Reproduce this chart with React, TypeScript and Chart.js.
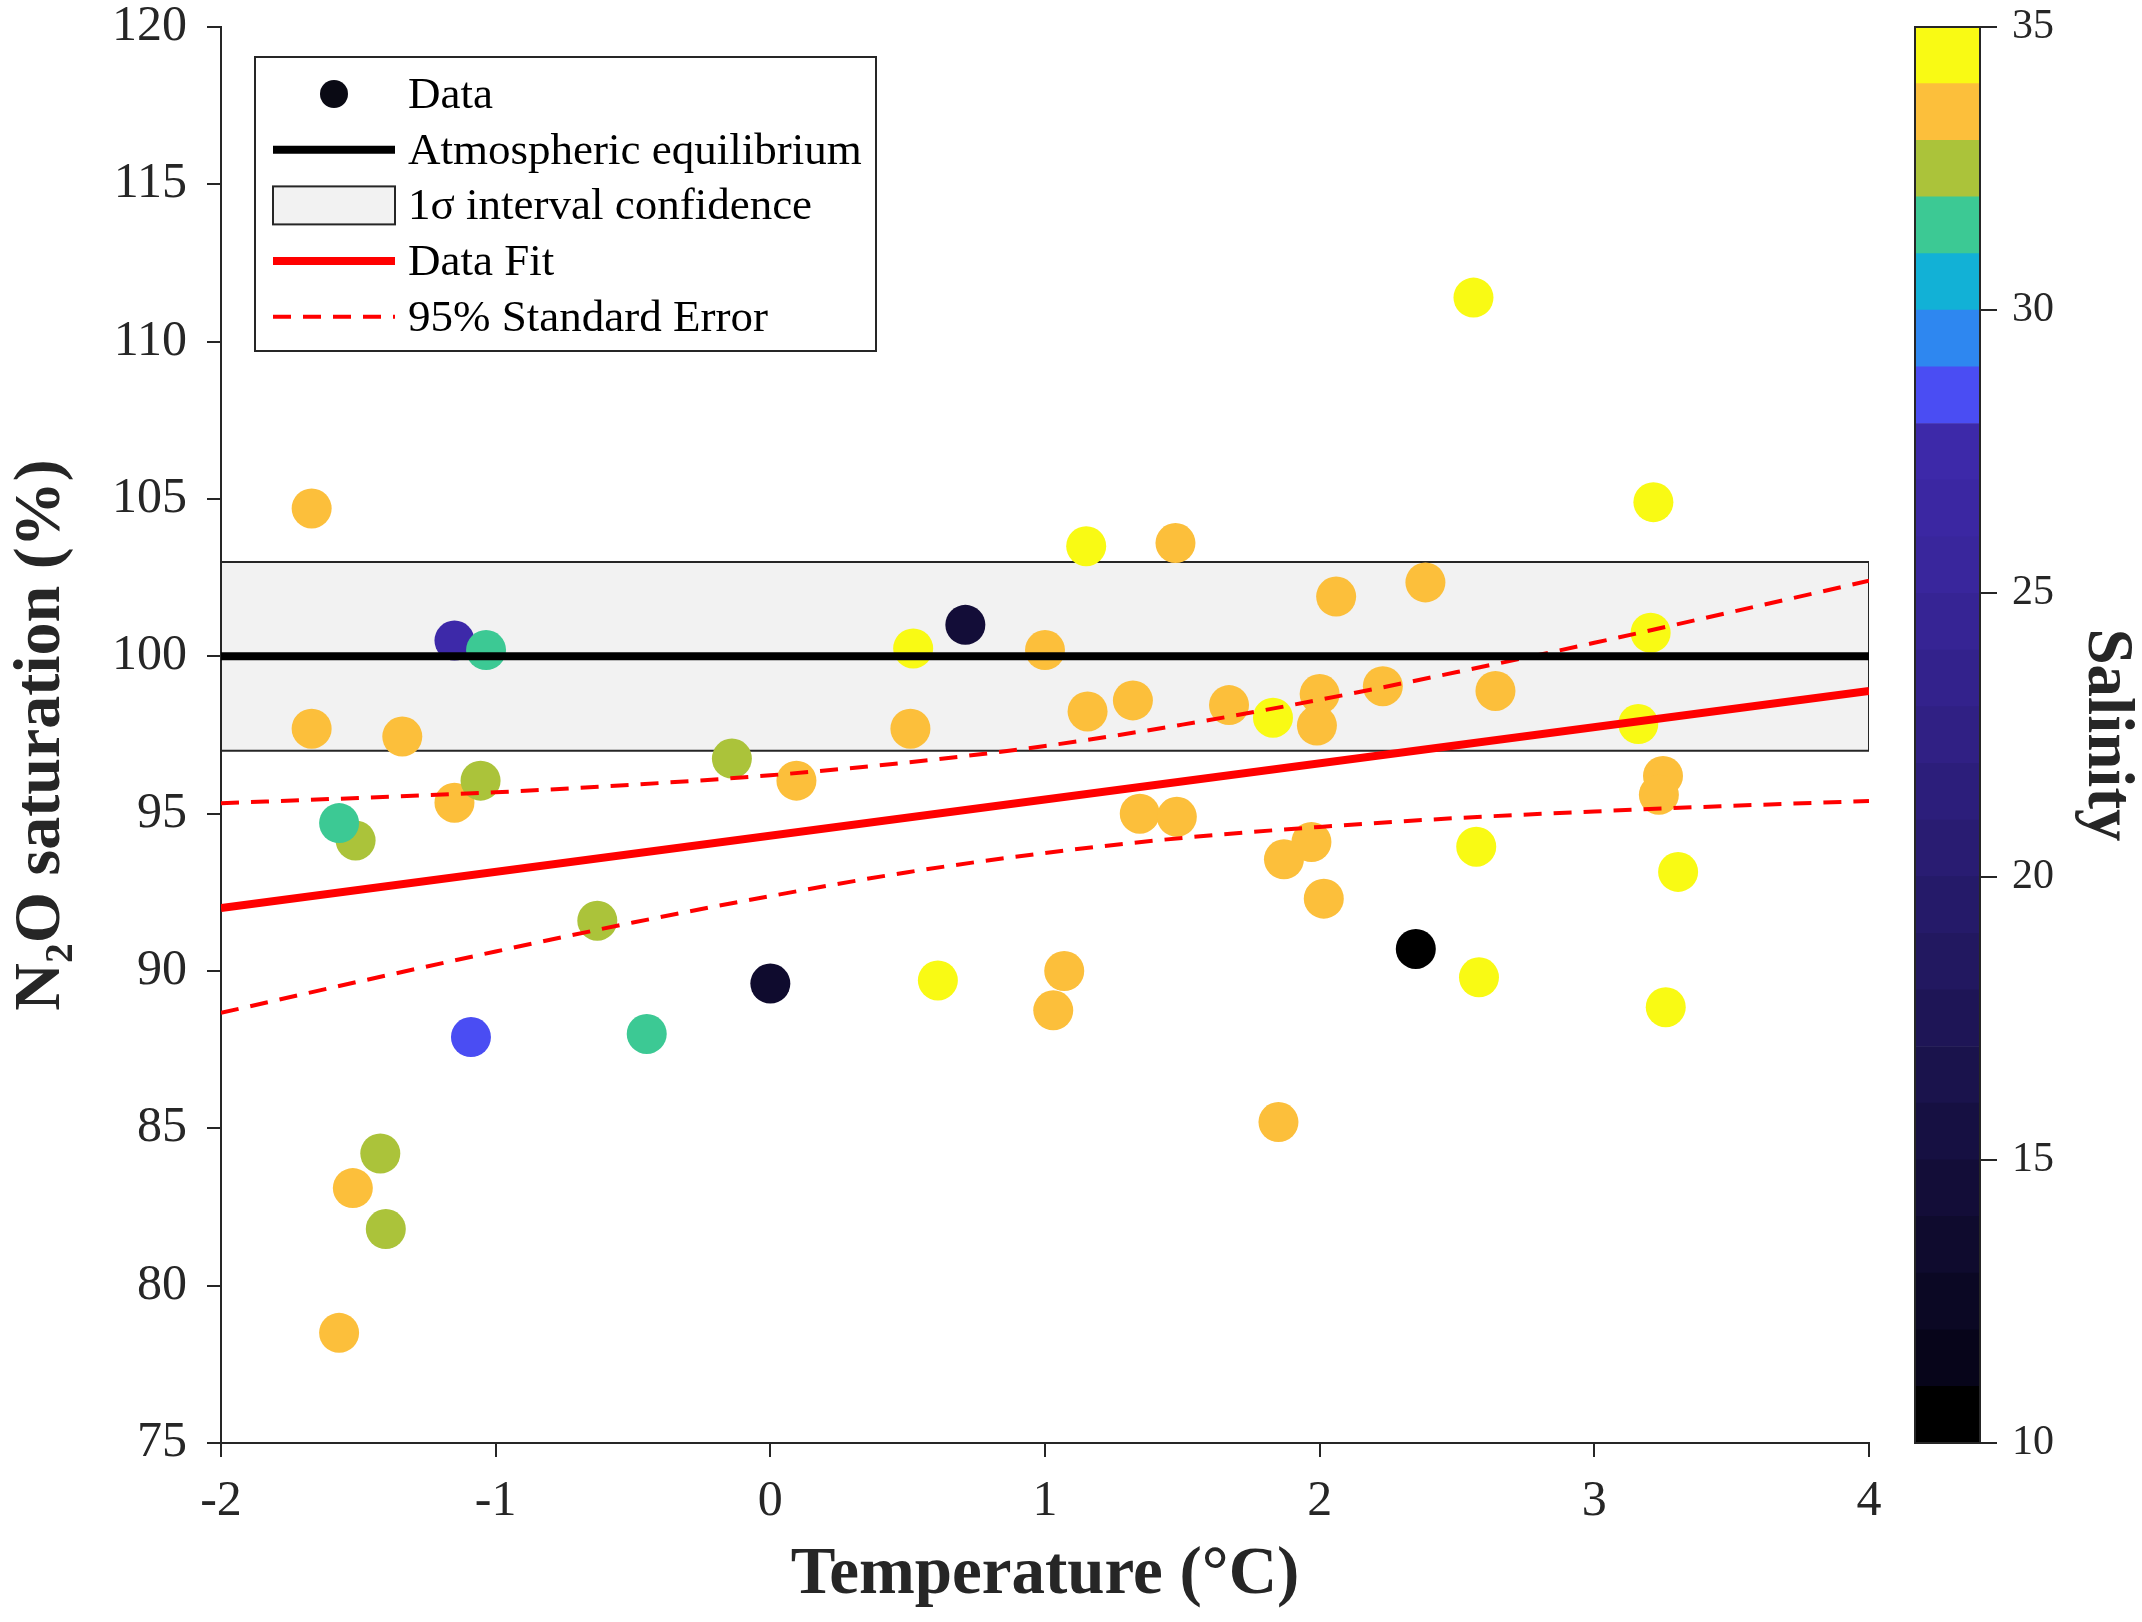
import React, { useEffect, useRef } from 'react';
import { Chart, registerables } from 'chart.js';

Chart.register(...registerables);

const FONT = "'Liberation Serif', 'Times New Roman', 'DejaVu Serif', serif";
const INK = '#262626';

// measured stations: temperature (°C), N2O saturation (%), salinity
const temperature = [
  -1.67, -1.67, -1.51, -1.57, -1.52, -1.42, -1.4, -1.57, -1.34, -1.15,
  -1.035, -1.15, -1.055, -1.09, -0.63, -0.45, -0.14, 0.0, 0.095, 0.51,
  0.52, 0.71, 0.61, 1.0, 1.07, 1.03, 1.15, 1.155, 1.32, 1.345,
  1.475, 1.48, 1.67, 1.83, 1.87, 1.85, 1.97, 2.0, 1.99, 2.015,
  2.06, 2.23, 2.385, 2.35, 2.56, 2.57, 2.58, 2.64, 3.215, 3.205,
  3.16, 3.25, 3.235, 3.305, 3.26,
];
const saturation = [
  104.7, 97.7, 94.15, 94.7, 83.1, 84.2, 81.8, 78.5, 97.45, 100.5,
  100.2, 95.35, 96.05, 87.9, 91.6, 88.0, 96.75, 89.6, 96.05, 97.7,
  100.25, 101.0, 89.7, 100.2, 90.0, 88.75, 103.5, 98.25, 98.6, 95.0,
  103.6, 94.9, 98.45, 98.05, 93.55, 85.2, 94.1, 98.8, 97.8, 92.3,
  101.9, 99.05, 102.35, 90.7, 111.4, 93.95, 89.8, 98.9, 104.9, 100.75,
  97.85, 96.2, 95.6, 93.15, 88.85,
];
const salinity = [
  33.5, 33.5, 32.5, 31.5, 33.5, 32.5, 32.5, 33.5, 33.5, 27.5,
  31.5, 33.5, 32.5, 28.5, 32.5, 31.5, 32.5, 13.5, 33.5, 33.5,
  34.5, 14.5, 34.5, 33.5, 33.5, 33.5, 34.5, 33.5, 33.5, 33.5,
  33.5, 33.5, 33.5, 34.5, 33.5, 33.5, 33.5, 33.5, 33.5, 33.5,
  33.5, 33.5, 33.5, 10.5, 34.5, 34.5, 34.5, 33.5, 34.5, 34.5,
  34.5, 33.5, 33.5, 34.5, 34.5,
];

// linear fit and its 95% standard error envelope
const fitTemperature = [-2, 4];
const fitSaturation = [92.0, 98.9];
const seTemperature = [-2, -1.5, -1, -0.5, 0, 0.5, 1, 1.5, 2, 2.5, 3, 3.5, 4];
const seUpper = [95.33, 95.5, 95.68, 95.92, 96.22, 96.63, 97.15, 97.83, 98.62, 99.5, 100.43, 101.41, 102.4];
const seLower = [88.67, 89.66, 90.62, 91.54, 92.38, 93.14, 93.75, 94.23, 94.58, 94.86, 95.07, 95.25, 95.4];

// atmospheric equilibrium and 1 sigma band
const equilibriumTemperature = [-2, 4];
const equilibriumSaturation = [100, 100];
const bandTemperature = [-2, 4, 4, -2, -2];
const bandSaturation = [97, 97, 103, 103, 97];

const xTickValues = [-2, -1, 0, 1, 2, 3, 4];
const yTickValues = [75, 80, 85, 90, 95, 100, 105, 110, 115, 120];
const salinityTickValues = [10, 15, 20, 25, 30, 35];

// colour bar bins (1 psu each)
const salinityBinStart = [
  10, 11, 12, 13, 14, 15, 16, 17, 18, 19, 20, 21, 22,
  23, 24, 25, 26, 27, 28, 29, 30, 31, 32, 33, 34,
];
const salinityBinColors = [
  '#000000', '#07051a', '#0b0824', '#0f0b2e', '#130d38', '#161042', '#1a134c',
  '#1e1556', '#221860', '#251a69', '#291c72', '#2c1e7b', '#302084', '#33228c',
  '#362494', '#39269c', '#3b27a2', '#3d29a9', '#4a4df3', '#2e87f0', '#12b1d6',
  '#3cc994', '#abc33a', '#fcbf3b', '#f9fa14',
];

const salinityColor = (s: number) => {
  let idx = 0;
  salinityBinStart.forEach((start, i) => {
    if (s >= start) idx = i;
  });
  return salinityBinColors[idx];
};

const toPoints = (xs: number[], ys: number[]) => xs.map((x, i) => ({ x, y: ys[i] }));

const legendOrder = ['Data', 'Atmospheric equilibrium', '1σ interval confidence', 'Data Fit', '95% Standard Error'];

const boxLegend = {
  id: 'boxLegend',
  afterDatasetsDraw(chart: any) {
    const { ctx, chartArea } = chart;
    const left = chartArea.left + 34;
    const top = chartArea.top + 30;
    const w = 621;
    const h = 294;
    const rowH = 55.7;
    ctx.save();
    ctx.fillStyle = '#ffffff';
    ctx.fillRect(left, top, w, h);
    ctx.strokeStyle = INK;
    ctx.lineWidth = 2;
    ctx.strokeRect(left, top, w, h);
    ctx.font = `45px ${FONT}`;
    ctx.textBaseline = 'middle';
    ctx.textAlign = 'left';
    legendOrder.forEach((label, i) => {
      const ds: any = chart.data.datasets.find((d: any) => d.label === label);
      if (!ds) return;
      const cy = top + 37 + i * rowH;
      const x0 = left + 18;
      const x1 = left + 140;
      if (ds.kind === 'points') {
        ctx.fillStyle = '#0a0a14';
        ctx.beginPath();
        ctx.arc((x0 + x1) / 2, cy, 14, 0, Math.PI * 2);
        ctx.fill();
      } else if (ds.kind === 'band') {
        ctx.fillStyle = ds.backgroundColor;
        ctx.fillRect(x0, cy - 19, x1 - x0, 38);
        ctx.strokeStyle = ds.borderColor;
        ctx.lineWidth = 2;
        ctx.strokeRect(x0, cy - 19, x1 - x0, 38);
      } else {
        ctx.strokeStyle = ds.borderColor;
        ctx.lineWidth = ds.borderWidth;
        ctx.setLineDash(ds.borderDash || []);
        ctx.beginPath();
        ctx.moveTo(x0, cy);
        ctx.lineTo(x1, cy);
        ctx.stroke();
        ctx.setLineDash([]);
      }
      ctx.fillStyle = '#000000';
      ctx.fillText(label, left + 153, cy + 2);
    });
    ctx.restore();
  },
};

const barOutline = {
  id: 'barOutline',
  afterDatasetsDraw(chart: any) {
    const { ctx, chartArea } = chart;
    ctx.save();
    ctx.strokeStyle = INK;
    ctx.lineWidth = 2;
    ctx.strokeRect(chartArea.left, chartArea.top, chartArea.right - chartArea.left, chartArea.bottom - chartArea.top);
    ctx.restore();
  },
};

const noPadding = (s: any) => {
  s.paddingTop = 0;
  s.paddingBottom = 0;
  s.paddingLeft = 0;
  s.paddingRight = 0;
};

export default function App() {
  const mainRef = useRef<HTMLCanvasElement>(null);
  const barRef = useRef<HTMLCanvasElement>(null);

  useEffect(() => {
    document.body.style.margin = '0';
    if (!mainRef.current || !barRef.current) return;

    const axisGrid = {
      drawOnChartArea: false,
      drawTicks: true,
      tickLength: 14,
      color: INK,
      lineWidth: 2,
    };

    const main = new Chart(mainRef.current, {
      type: 'scatter',
      data: {
        datasets: [
          {
            kind: 'band',
            type: 'line',
            label: '1σ interval confidence',
            data: toPoints(bandTemperature, bandSaturation),
            borderColor: INK,
            borderWidth: 2,
            backgroundColor: '#f2f2f2',
            fill: 'shape',
            pointRadius: 0,
            tension: 0,
            order: 4,
          },
          {
            kind: 'points',
            label: 'Data',
            data: toPoints(temperature, saturation),
            backgroundColor: (c: any) => salinityColor(salinity[c.dataIndex]),
            borderWidth: 0,
            pointRadius: 20,
            pointHoverRadius: 20,
            order: 3,
          },
          {
            kind: 'line',
            type: 'line',
            label: '95% Standard Error',
            data: toPoints(seTemperature, seUpper),
            borderColor: '#ff0000',
            borderWidth: 4,
            borderDash: [18, 12],
            pointRadius: 0,
            cubicInterpolationMode: 'monotone',
            fill: false,
            order: 2,
          },
          {
            kind: 'line',
            type: 'line',
            label: '95% Standard Error (lower)',
            data: toPoints(seTemperature, seLower),
            borderColor: '#ff0000',
            borderWidth: 4,
            borderDash: [18, 12],
            pointRadius: 0,
            cubicInterpolationMode: 'monotone',
            fill: false,
            order: 2,
          },
          {
            kind: 'line',
            type: 'line',
            label: 'Data Fit',
            data: toPoints(fitTemperature, fitSaturation),
            borderColor: '#ff0000',
            borderWidth: 8,
            pointRadius: 0,
            fill: false,
            order: 1,
          },
          {
            kind: 'line',
            type: 'line',
            label: 'Atmospheric equilibrium',
            data: toPoints(equilibriumTemperature, equilibriumSaturation),
            borderColor: '#000000',
            borderWidth: 8,
            pointRadius: 0,
            fill: false,
            order: 1,
          },
        ] as any,
      },
      options: {
        animation: false,
        responsive: true,
        maintainAspectRatio: false,
        events: [],
        layout: { padding: { top: 27, right: 31, bottom: 0, left: 0 } },
        plugins: {
          legend: { display: false },
          tooltip: { enabled: false },
        },
        scales: {
          x: {
            type: 'linear',
            min: -2,
            max: 4,
            afterBuildTicks: (s: any) => {
              s.ticks = xTickValues.map(v => ({ value: v }));
            },
            afterFit: (s: any) => {
              s.height = 179;
              noPadding(s);
            },
            grid: axisGrid,
            border: { display: true, color: INK, width: 2 },
            ticks: {
              color: INK,
              padding: 20,
              maxRotation: 0,
              font: { family: FONT, size: 50, lineHeight: 1 },
            },
            title: {
              display: true,
              text: 'Temperature (°C)',
              color: INK,
              padding: { top: 0, bottom: 6 },
              font: { family: FONT, size: 67, weight: 'bold', lineHeight: 1.2 },
            },
          },
          y: {
            type: 'linear',
            min: 75,
            max: 120,
            afterBuildTicks: (s: any) => {
              s.ticks = yTickValues.map(v => ({ value: v }));
            },
            afterFit: (s: any) => {
              s.width = 221;
              noPadding(s);
            },
            grid: axisGrid,
            border: { display: true, color: INK, width: 2 },
            ticks: {
              color: INK,
              padding: 20,
              font: { family: FONT, size: 50, lineHeight: 1 },
            },
            title: {
              display: true,
              text: 'N₂O saturation (%)',
              color: INK,
              padding: { top: 4, bottom: 0 },
              font: { family: FONT, size: 66, weight: 'bold', lineHeight: 1.15 },
            },
          },
        },
      } as any,
      plugins: [boxLegend],
    });

    const bar = new Chart(barRef.current, {
      type: 'bar',
      data: {
        labels: ['Salinity'],
        datasets: salinityBinStart.map((start, i) => ({
          label: String(start),
          data: [[start, start + 1]],
          backgroundColor: salinityBinColors[i],
          borderWidth: 0,
          barPercentage: 1,
          categoryPercentage: 1,
          grouped: false,
        })) as any,
      },
      options: {
        animation: false,
        responsive: true,
        maintainAspectRatio: false,
        events: [],
        layout: { padding: { top: 27, right: 0, bottom: 179, left: 35 } },
        plugins: {
          legend: { display: false },
          tooltip: { enabled: false },
        },
        scales: {
          x: { display: false },
          y: {
            position: 'right',
            min: 10,
            max: 35,
            afterBuildTicks: (s: any) => {
              s.ticks = salinityTickValues.map(v => ({ value: v }));
            },
            afterFit: (s: any) => {
              s.width = 162;
              noPadding(s);
            },
            grid: { drawOnChartArea: false, drawTicks: true, tickLength: 17, color: INK, lineWidth: 2 },
            border: { display: false },
            ticks: {
              color: INK,
              padding: 15,
              font: { family: FONT, size: 42, lineHeight: 1 },
            },
            title: {
              display: true,
              text: 'Salinity',
              color: INK,
              padding: { top: 4, bottom: 0 },
              font: { family: FONT, size: 65, weight: 'bold', lineHeight: 1 },
            },
          },
        },
      } as any,
      plugins: [barOutline],
    });

    return () => {
      main.destroy();
      bar.destroy();
    };
  }, []);

  return (
    <div style={{ position: 'relative', width: 2142, height: 1622, background: '#ffffff', overflow: 'hidden' }}>
      <div style={{ position: 'absolute', left: 0, top: 0, width: 1900, height: 1622 }}>
        <canvas ref={mainRef}></canvas>
      </div>
      <div style={{ position: 'absolute', left: 1880, top: 0, width: 262, height: 1622 }}>
        <canvas ref={barRef}></canvas>
      </div>
    </div>
  );
}
